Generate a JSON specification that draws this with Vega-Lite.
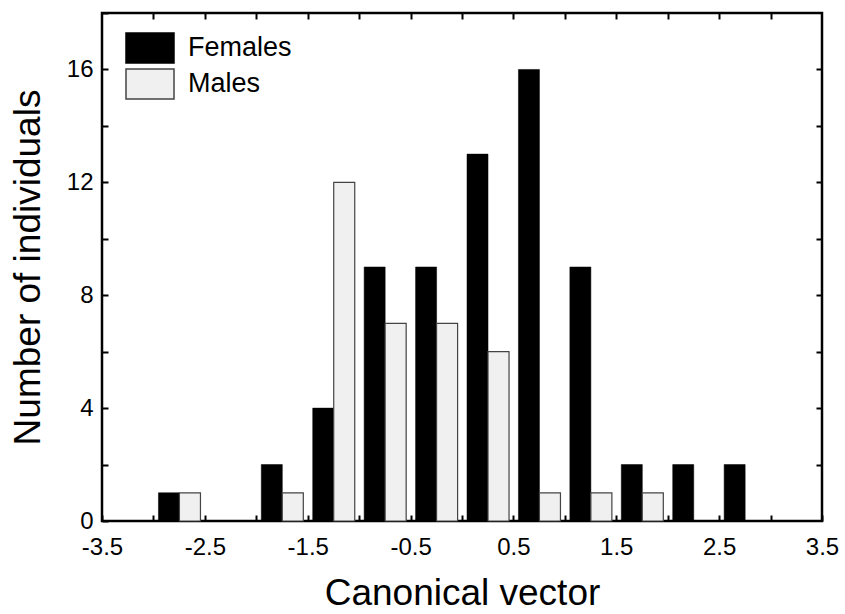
{
  "$schema": "https://vega.github.io/schema/vega-lite/v6.json",
  "width": 720,
  "height": 508,
  "autosize": "none",
  "padding": {"left": 102, "top": 13, "right": 23, "bottom": 93},
  "background": "white",
  "config": {
    "view": {"stroke": "black", "strokeWidth": 2.5},
    "font": "Liberation Sans",
    "axis": {"grid": false, "domain": false, "tickColor": "black", "tickWidth": 2, "labelColor": "black", "titleColor": "black", "titleFontWeight": "normal", "labelFont": "Liberation Sans", "titleFont": "Liberation Sans"}
  },
  "data": {
    "values": [
      {"lo": -3.0, "hi": -2.5, "sex": "Females", "count": 1},
      {"lo": -3.0, "hi": -2.5, "sex": "Males", "count": 1},
      {"lo": -2.0, "hi": -1.5, "sex": "Females", "count": 2},
      {"lo": -2.0, "hi": -1.5, "sex": "Males", "count": 1},
      {"lo": -1.5, "hi": -1.0, "sex": "Females", "count": 4},
      {"lo": -1.5, "hi": -1.0, "sex": "Males", "count": 12},
      {"lo": -1.0, "hi": -0.5, "sex": "Females", "count": 9},
      {"lo": -1.0, "hi": -0.5, "sex": "Males", "count": 7},
      {"lo": -0.5, "hi": 0.0, "sex": "Females", "count": 9},
      {"lo": -0.5, "hi": 0.0, "sex": "Males", "count": 7},
      {"lo": 0.0, "hi": 0.5, "sex": "Females", "count": 13},
      {"lo": 0.0, "hi": 0.5, "sex": "Males", "count": 6},
      {"lo": 0.5, "hi": 1.0, "sex": "Females", "count": 16},
      {"lo": 0.5, "hi": 1.0, "sex": "Males", "count": 1},
      {"lo": 1.0, "hi": 1.5, "sex": "Females", "count": 9},
      {"lo": 1.0, "hi": 1.5, "sex": "Males", "count": 1},
      {"lo": 1.5, "hi": 2.0, "sex": "Females", "count": 2},
      {"lo": 1.5, "hi": 2.0, "sex": "Males", "count": 1},
      {"lo": 2.0, "hi": 2.5, "sex": "Females", "count": 2},
      {"lo": 2.5, "hi": 3.0, "sex": "Females", "count": 2}
    ]
  },
  "layer": [
    {
      "transform": [{"filter": "datum.sex == 'Females'"}],
      "mark": {"type": "bar", "xOffset": 5, "x2Offset": -25.4, "fill": "black", "stroke": "black", "strokeWidth": 0.5},
      "encoding": {
        "x": {
          "field": "lo", "type": "quantitative",
          "scale": {"domain": [-3.5, 3.5], "nice": false, "zero": false},
          "axis": {
            "orient": "bottom",
            "values": [-3.5, -3, -2.5, -2, -1.5, -1, -0.5, 0, 0.5, 1, 1.5, 2, 2.5, 3, 3.5],
            "labelExpr": "abs(datum.value * 2) % 2 == 1 ? (datum.value < 0 ? '-' : '') + format(abs(datum.value), '.1f') : ''",
            "tickSize": -6, "labelPadding": 20, "labelFontSize": 24, "labelFlush": false, "labelOverlap": false,
            "title": "Canonical vector", "titleFontSize": 37, "titlePadding": 16
          }
        },
        "x2": {"field": "hi"},
        "y": {
          "field": "count", "type": "quantitative",
          "scale": {"domain": [0, 18], "nice": false},
          "axis": {
            "orient": "left",
            "values": [0, 2, 4, 6, 8, 10, 12, 14, 16, 18],
            "labelExpr": "datum.value % 4 == 0 && datum.value < 18 ? datum.label : ''",
            "tickSize": -6, "labelPadding": 15, "labelFontSize": 24,
            "title": "Number of individuals", "titleFontSize": 37, "titlePadding": 19
          }
        },
        "y2": {"datum": 0},
        "fill": {
          "field": "sex", "type": "nominal",
          "scale": {"domain": ["Females", "Males"], "range": ["black", "#f0f0f0"]},
          "legend": {
            "orient": "none", "legendX": 32, "legendY": 19, "title": null,
            "symbolType": "M-1.6,-1H1.6V1H-1.6Z", "symbolSize": 900, "symbolStrokeWidth": 1.5,
            "labelFontSize": 27, "labelOffset": 22, "labelColor": "black", "rowPadding": 0, "padding": 0
          }
        },
        "stroke": {
          "field": "sex", "type": "nominal",
          "scale": {"domain": ["Females", "Males"], "range": ["black", "#444444"]},
          "legend": null
        }
      }
    },
    {
      "transform": [{"filter": "datum.sex == 'Males'"}],
      "mark": {"type": "bar", "xOffset": 26, "x2Offset": -4.4, "fill": "#f0f0f0", "stroke": "#444444", "strokeWidth": 1.2},
      "encoding": {
        "x": {
          "field": "lo", "type": "quantitative",
          "axis": {
            "orient": "top",
            "values": [-3, -2.5, -2, -1.5, -1, -0.5, 0, 0.5, 1, 1.5, 2, 2.5, 3],
            "labels": false, "tickSize": -6, "title": null
          }
        },
        "x2": {"field": "hi"},
        "y": {
          "field": "count", "type": "quantitative",
          "axis": {
            "orient": "right",
            "values": [2, 4, 6, 8, 10, 12, 14, 16],
            "labels": false, "tickSize": -6, "title": null
          }
        },
        "y2": {"datum": 0}
      }
    }
  ],
  "resolve": {"axis": {"x": "independent", "y": "independent"}}
}
